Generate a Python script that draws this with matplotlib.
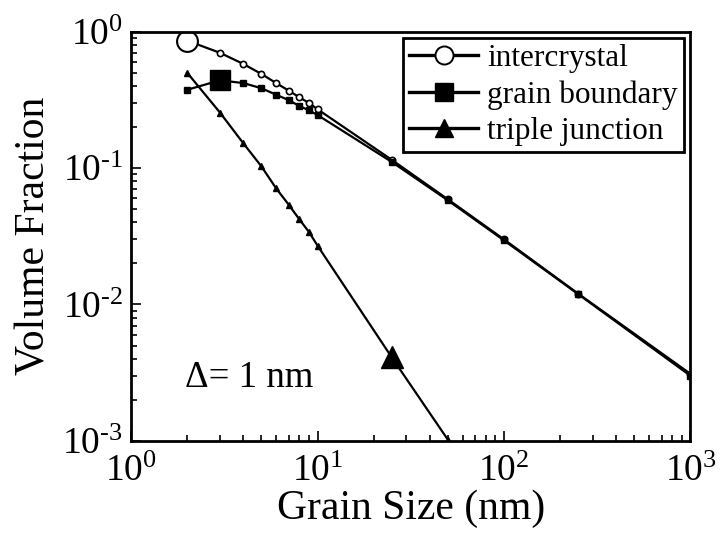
import matplotlib

matplotlib.use("Agg")
import matplotlib.pyplot as plt
from matplotlib.lines import Line2D
from matplotlib.ticker import FuncFormatter
import numpy as np

plt.rcParams["font.family"] = "Liberation Serif"
plt.rcParams["mathtext.fontset"] = "custom"
plt.rcParams["mathtext.rm"] = "Liberation Serif"
plt.rcParams["mathtext.it"] = "Liberation Serif"

# grain size (nm) and volume fractions for a 1 nm boundary thickness
grain_size = [2, 3, 4, 5, 6, 7, 8, 9, 10, 25, 50, 100, 250, 1000]
intercrystal = [0.86, 0.70, 0.58, 0.49, 0.42, 0.37, 0.33, 0.30, 0.27,
                0.115, 0.059, 0.030, 0.0120, 0.0031]
grain_boundary = [0.375, 0.44, 0.42, 0.385, 0.345, 0.315, 0.285, 0.265, 0.245,
                  0.111, 0.058, 0.0295, 0.0119, 0.0030]
triple_size = [2, 3, 4, 5, 6, 7, 8, 9, 10, 25, 50]
triple_junction = [0.50, 0.255, 0.152, 0.103, 0.071, 0.054, 0.042, 0.034, 0.027,
                   0.0041, 0.00102]


def pow10(v, _pos):
    e = int(round(np.log10(v)))
    sign = r"\text{-}" if e < 0 else ""
    return r"$\mathregular{10^{%s%d}}$" % (sign, abs(e))


fig = plt.figure(figsize=(7.2, 5.37), dpi=100)
ax = fig.add_axes([0.182, 0.179, 0.777, 0.762])

lw = 1.6
ax.plot(grain_size, intercrystal, "-o", color="black", lw=lw, ms=4.5,
        mfc="white", mec="black", mew=1.2)
ax.plot(grain_size, grain_boundary, "-s", color="black", lw=lw, ms=4.5)
ax.plot(triple_size, triple_junction, "-^", color="black", lw=lw, ms=4.5)

# one large marker per curve
ax.plot(grain_size[0], intercrystal[0], "o", ms=15, mfc="white", mec="black", mew=1.5)
ax.plot(grain_size[1], grain_boundary[1], "s", ms=15, color="black")
ax.plot(triple_size[9], triple_junction[9], "^", ms=16, color="black")

ax.set_xscale("log")
ax.set_yscale("log")
ax.set_xlim(1, 1000)
ax.set_ylim(1e-3, 1)
ax.xaxis.set_major_formatter(FuncFormatter(pow10))
ax.yaxis.set_major_formatter(FuncFormatter(pow10))

ax.set_xlabel("Grain Size (nm)", fontsize=30, labelpad=0)
ax.set_ylabel("Volume Fraction", fontsize=30, labelpad=6)
ax.tick_params(which="both", direction="in", top=False, right=False,
               labelsize=27, width=1.2)
ax.tick_params(which="major", length=7)
ax.tick_params(which="minor", length=4)
ax.tick_params(axis="x", which="major", pad=10)
ax.tick_params(axis="y", which="major", pad=6)
for spine in ax.spines.values():
    spine.set_linewidth(2)

ax.text(1.95, 2.9e-3, "Δ= 1 nm", fontsize=26.5, ha="left", va="center")

handles = [
    Line2D([], [], color="black", lw=2.4, marker="o", ms=13, mfc="white", mew=1.4),
    Line2D([], [], color="black", lw=2.4, marker="s", ms=13),
    Line2D([], [], color="black", lw=2.4, marker="^", ms=13),
]
leg = ax.legend(handles, ["intercrystal", "grain boundary", "triple junction"],
                loc="upper right", fontsize=22.5,
                frameon=True, fancybox=False, edgecolor="black", framealpha=1,
                handlelength=2.2, handletextpad=0.3, borderpad=0.2,
                labelspacing=0.23, borderaxespad=0.2)
leg.get_frame().set_linewidth(2)

fig.savefig("out.png", dpi=100, facecolor="white")
